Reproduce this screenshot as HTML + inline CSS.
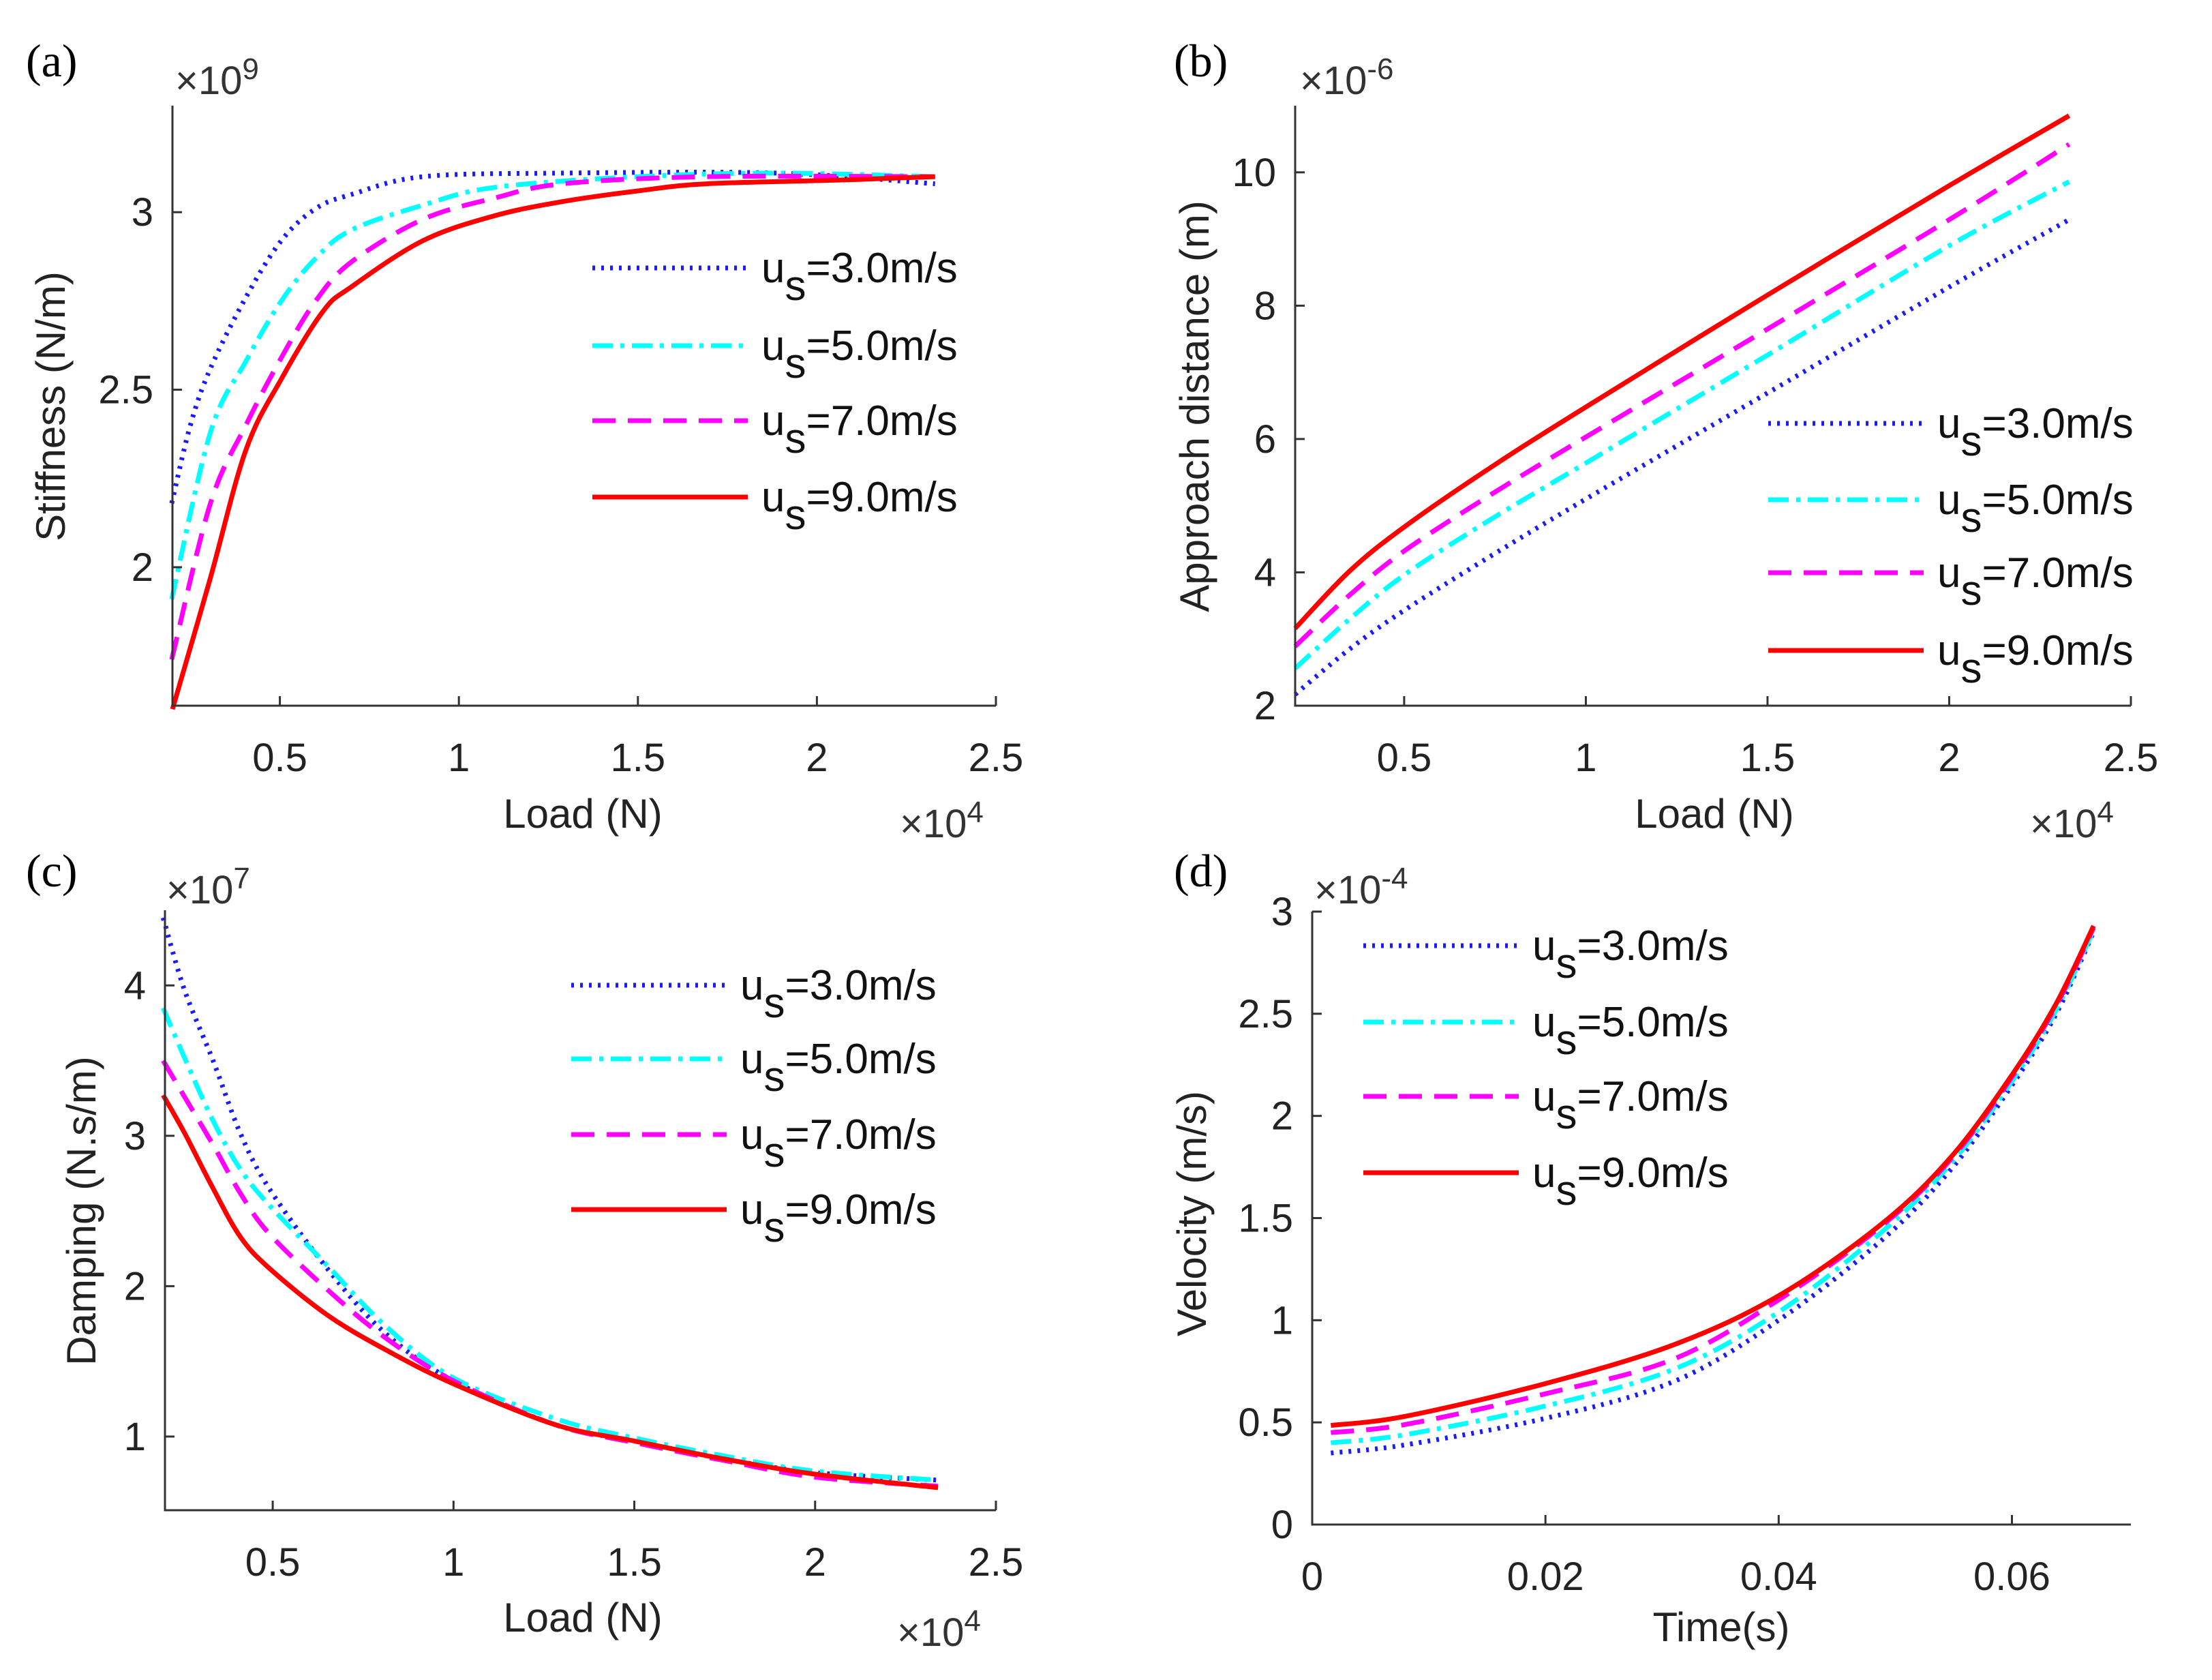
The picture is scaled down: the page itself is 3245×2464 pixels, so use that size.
<!DOCTYPE html>
<html><head><meta charset="utf-8"><style>
html,body{margin:0;padding:0;background:#fff;}
svg{display:block;font-family:"Liberation Sans",Arial,sans-serif;}
</style></head><body>
<svg id="fig" width="3245" height="2464" viewBox="0 0 3245 2464" xmlns="http://www.w3.org/2000/svg"></svg>
<script>
// ---- data ----
const seriesNames = ["3.0","5.0","7.0","9.0"];
// (a) stiffness x1e9 vs load x1e4
const aX = [[0.198,0.25,0.306,0.405,0.504,0.60,0.70,0.90,1.29,1.89,2.33],
            [0.198,0.306,0.405,0.504,0.60,0.70,0.90,1.10,1.50,1.89,2.33],
            [0.198,0.306,0.405,0.504,0.60,0.70,0.90,1.10,1.29,1.69,2.33],
            [0.200,0.306,0.405,0.504,0.62,0.70,0.90,1.10,1.29,1.50,1.69,2.05,2.33]];
const aY = [[2.18,2.40,2.56,2.76,2.92,3.01,3.05,3.10,3.11,3.11,3.08],
            [1.91,2.38,2.58,2.75,2.87,2.95,3.02,3.07,3.10,3.11,3.10],
            [1.74,2.18,2.40,2.59,2.75,2.86,2.98,3.04,3.08,3.10,3.10],
            [1.60,1.97,2.33,2.53,2.72,2.79,2.92,2.99,3.03,3.06,3.08,3.09,3.10]];
// (b) approach distance x1e-6 vs load x1e4
const bX = [0.2,0.35,0.5,0.74,1.0,1.5,2.0,2.33];
const bY = [[2.17,2.85,3.43,4.25,5.10,6.69,8.28,9.29],
            [2.56,3.30,3.96,4.80,5.64,7.26,8.90,9.86],
            [2.89,3.66,4.32,5.17,6.03,7.65,9.29,10.42],
            [3.16,4.02,4.68,5.58,6.48,8.16,9.80,10.85]];
// (c) damping x1e7 vs load x1e4
const cX = [0.197,0.256,0.335,0.41,0.49,0.65,0.81,1.0,1.28,1.5,1.75,2.0,2.34];
const cY = [[4.45,3.97,3.50,3.02,2.65,2.12,1.69,1.37,1.08,0.97,0.85,0.76,0.71],
            [3.85,3.52,3.10,2.78,2.54,2.14,1.74,1.39,1.12,0.99,0.87,0.77,0.71],
            [3.50,3.26,2.94,2.62,2.35,1.98,1.66,1.37,1.08,0.96,0.84,0.73,0.67],
            [3.27,3.02,2.65,2.33,2.12,1.81,1.58,1.35,1.08,0.97,0.85,0.75,0.66]];
// (d) velocity x1e-4 vs time
const dX = [0.0016,0.008,0.02,0.031,0.04,0.0488,0.0548,0.06,0.0638,0.067];
const dY = [[0.35,0.39,0.52,0.70,1.00,1.39,1.74,2.15,2.50,2.90],
            [0.40,0.44,0.58,0.76,1.04,1.43,1.77,2.17,2.52,2.91],
            [0.45,0.49,0.64,0.81,1.10,1.46,1.79,2.19,2.54,2.92],
            [0.485,0.53,0.69,0.88,1.12,1.47,1.80,2.20,2.55,2.93]];
const aXT=[0.5,1,1.5,2,2.5], aYT=[2,2.5,3];
const bXT=[0.5,1,1.5,2,2.5], bYT=[2,4,6,8,10];
const cXT=[0.5,1,1.5,2,2.5], cYT=[1,2,3,4];
const dXT=[0,0.02,0.04,0.06], dYT=[0,0.5,1,1.5,2,2.5,3];

const colors=["#1a1aff","#00ffff","#ff00ff","#ff0000"];
const dashes=["4,9","30,11,6,11","34,18",""];
const NS="http://www.w3.org/2000/svg";
const svg=document.getElementById('fig');
function mk(tag,attrs,parent){const e=document.createElementNS(NS,tag);for(const k in attrs)e.setAttribute(k,attrs[k]);(parent||svg).appendChild(e);return e;}
function smooth(pts){
  let d='M'+pts[0][0].toFixed(1)+','+pts[0][1].toFixed(1);
  for(let i=0;i<pts.length-1;i++){
    const p0=pts[Math.max(0,i-1)],p1=pts[i],p2=pts[i+1],p3=pts[Math.min(pts.length-1,i+2)];
    const c1=[p1[0]+(p2[0]-p0[0])/6,p1[1]+(p2[1]-p0[1])/6];
    const c2=[p2[0]-(p3[0]-p1[0])/6,p2[1]-(p3[1]-p1[1])/6];
    d+='C'+c1[0].toFixed(1)+','+c1[1].toFixed(1)+' '+c2[0].toFixed(1)+','+c2[1].toFixed(1)+' '+p2[0].toFixed(1)+','+p2[1].toFixed(1);
  }
  return d;
}

function panel(p){
  const g=mk('g',{});
  
  
  const sx=v=>p.L+(v-p.x0)/(p.x1-p.x0)*(p.R-p.L);
  const sy=v=>p.B-(v-p.y0)/(p.y1-p.y0)*(p.B-p.T);
  p.ys.forEach((ys,i)=>{
    const xs=Array.isArray(p.xs[0])?p.xs[i]:p.xs;
    const pts=xs.map((x,j)=>[sx(x),sy(ys[j])]);
    const path=mk('path',{d:smooth(pts),fill:'none',stroke:colors[i],'stroke-width':7,'stroke-linejoin':'round'},g);
    if(dashes[i])path.setAttribute('stroke-dasharray',dashes[i]);
    
    
  });
  const ax=mk('path',{d:`M${p.L},${p.T}L${p.L},${p.B}L${p.R},${p.B}`,fill:'none',stroke:'#333','stroke-width':3},g);
  
  
  p.xt.forEach(v=>{const x=sx(v);mk('line',{x1:x,y1:p.B,x2:x,y2:p.B-14,stroke:'#333','stroke-width':3},g);
    const t=mk('text',{x:x,y:p.B+96,'font-size':58,'text-anchor':'middle',fill:'#222'},g);t.textContent=String(v);
    
    });
  p.yt.forEach(v=>{const y=sy(v);mk('line',{x1:p.L,y1:y,x2:p.L+14,y2:y,stroke:'#333','stroke-width':3},g);
    const t=mk('text',{x:p.L-28,y:y+20,'font-size':58,'text-anchor':'end',fill:'#222'},g);t.textContent=String(v);
    
    });
  const lab=mk('text',{x:p.lab[0],y:p.lab[1],'font-size':68,'font-family':'"Liberation Serif",serif',fill:'#000'},g);lab.textContent='('+p.id+')';
  
  
  const ex=mk('text',{x:p.ex[0],y:p.ex[1],'font-size':58,fill:'#333'},g);
  ex.innerHTML='×10<tspan dy="-22" font-size="44">'+p.ex[2]+'</tspan>';
  
  
  if(p.xe){const xe=mk('text',{x:p.xe[0],y:p.xe[1],'font-size':58,fill:'#333'},g);
    xe.innerHTML='×10<tspan dy="-22" font-size="44">4</tspan>';
    
    }
  const xt=mk('text',{x:p.xl[0],y:p.xl[1],'font-size':60,'text-anchor':'middle',fill:'#222'},g);xt.textContent=p.xl[2];
  
  
  const yt=mk('text',{x:0,y:0,'font-size':60,'text-anchor':'middle',fill:'#222',transform:`translate(${p.yl[0]},${p.yl[1]}) rotate(-90)`},g);yt.textContent=p.yl[2];
  
  
  p.leg.rows.forEach((ry,i)=>{
    const lg=mk('g',{},g);
    
    
    const ln=mk('line',{x1:p.leg.x,y1:ry,x2:p.leg.x+228,y2:ry,stroke:colors[i],'stroke-width':7},lg);
    if(dashes[i])ln.setAttribute('stroke-dasharray',dashes[i]);
    const t=mk('text',{x:p.leg.x+248,y:ry+21,'font-size':62,fill:'#111'},lg);
    t.innerHTML='u<tspan dy="26">s</tspan><tspan dy="-26">='+seriesNames[i]+'m/s</tspan>';
  });
}
panel({id:'a',L:253,R:1461,T:155,B:1035,x0:0.2,x1:2.5,y0:1.61,y1:3.30,xs:aX,ys:aY,xt:aXT,yt:aYT,
  lab:[38,112],ex:[257,138,'9'],xe:[1320,1228],xl:[855,1214,'Load (N)'],yl:[95,596,'Stiffness (N/m)'],
  leg:{x:869,rows:[393,507,617,729]}});
panel({id:'b',L:1900,R:3126,T:155,B:1035,x0:0.2,x1:2.5,y0:2,y1:11.0,xs:bX,ys:bY,xt:bXT,yt:bYT,
  lab:[1722,112],ex:[1907,138,'-6'],xe:[2978,1228],xl:[2515,1214,'Load (N)'],yl:[1773,596,'Approach distance (m)'],
  leg:{x:2594,rows:[621,733,840,954]}});
panel({id:'c',L:242,R:1461,T:1335,B:2215,x0:0.202,x1:2.5,y0:0.51,y1:4.5,xs:cX,ys:cY,xt:cXT,yt:cYT,
  lab:[38,1300],ex:[244,1325,'7'],xe:[1316,2414],xl:[855,2393,'Load (N)'],yl:[140,1776,'Damping (N.s/m)'],
  leg:{x:838,rows:[1445,1553,1664,1774]}});
panel({id:'d',L:1925,R:3126,T:1337,B:2236,x0:0,x1:0.0702,y0:0,y1:3,xs:dX,ys:dY,xt:dXT,yt:dYT,
  lab:[1722,1300],ex:[1928,1325,'-4'],xe:null,xl:[2525,2407,'Time(s)'],yl:[1769,1780,'Velocity (m/s)'],
  leg:{x:2000,rows:[1387,1499,1608,1720]}});
</script>
</body></html>
